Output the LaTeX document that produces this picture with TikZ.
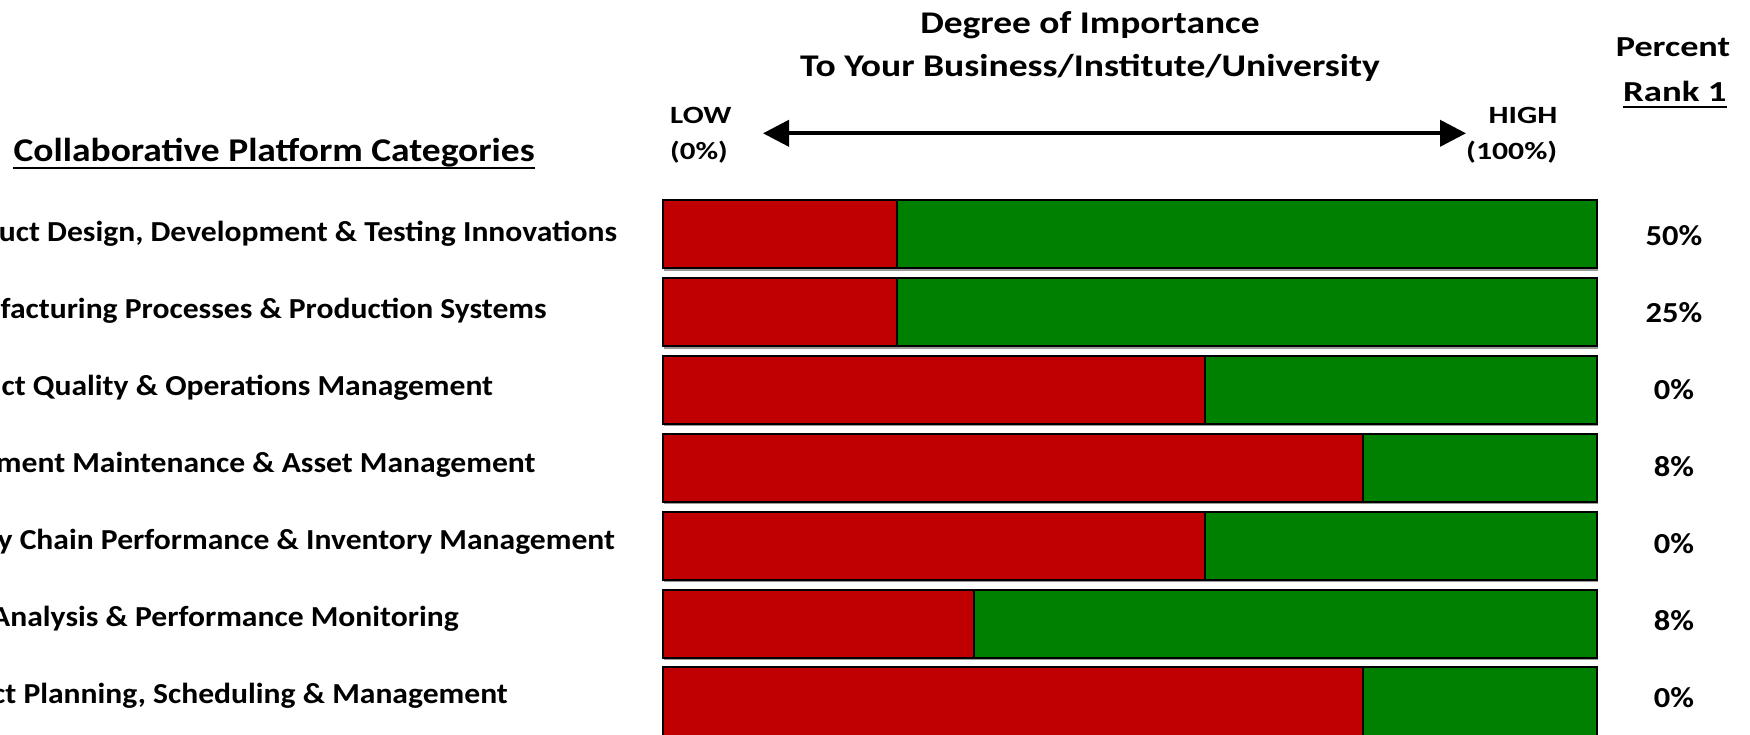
\documentclass[tikz,border=0pt]{standalone}
\usepackage{graphicx}
\usepackage{fontspec}
\setmainfont{Carlito}
\usetikzlibrary{arrows.meta}
\definecolor{barred}{RGB}{192,0,0}
\definecolor{bargreen}{RGB}{0,128,0}
\newcommand{\hs}[2]{\scalebox{#1}[1]{#2}}
\begin{document}
\begin{tikzpicture}[x=1pt,y=-1pt,
  rowlbl/.style={font=\fontsize{29}{35}\selectfont\bfseries, inner sep=0pt, anchor=base east},
  pctlbl/.style={font=\fontsize{29}{35}\selectfont\bfseries, inner sep=0pt, anchor=base},
  title/.style={font=\fontsize{31.6}{38}\selectfont\bfseries, inner sep=0pt, anchor=base},
  scalelbl/.style={font=\fontsize{24.8}{30}\selectfont\bfseries, inner sep=0pt},
  barline/.style={draw=black, line width=2pt},
  shadowline/.style={draw=black!40, line width=1.5pt}
]
\useasboundingbox (0,0) rectangle (1750,735);
\clip (0,0) rectangle (1750,735);

% headings
\node[title] (t1) at (1090,34) {\hs{1.185}{Degree of Importance}};
\node[title] (t2) at (1090,76.7) {\hs{1.19}{To Your Business/Institute/University}};
\node[font=\fontsize{33.2}{40}\selectfont\bfseries, inner sep=0pt, anchor=base west] (cat) at (13.4,161.7) {\hs{1.13}{Collaborative Platform Categories}};
\draw[line width=2.2pt] (cat.base west) ++(0,6.6) coordinate (catul1) -- (catul1 -| cat.base east);
\node[pctlbl] (pc1) at (1673,56.7) {\hs{1.25}{Percent}};
\node[pctlbl] (pc2) at (1674.8,101.7) {\hs{1.27}{Rank 1}};
\draw[line width=2pt] (pc2.base west) ++(0,5.6) coordinate (pcul1) -- (pcul1 -| pc2.base east);

% scale
\node[scalelbl, anchor=base west] (low) at (670,124) {\hs{1.25}{LOW}};
\node[scalelbl, anchor=base west] (lowp) at (670,160) {\hs{1.25}{(0\%)}};
\node[scalelbl, anchor=base east] (high) at (1557.5,124) {\hs{1.28}{HIGH}};
\node[scalelbl, anchor=base east] (highp) at (1557.5,160) {\hs{1.28}{(100\%)}};
\coordinate (arrL) at (763,133.3);
\coordinate (arrR) at (1466,133.3);
\draw[line width=4pt, {Triangle[length=26pt,width=26pt]}-{Triangle[length=26pt,width=26pt]}] (arrL) -- (arrR);

% bars
\foreach \k/\d/\e/\p/\t in {
  0/896.7/617.4/50\%/{Product Design, Development \& Testing Innovations},
  1/896.7/546.9/25\%/{Manufacturing Processes \& Production Systems},
  2/1205/493.3/0\%/{Product Quality \& Operations Management},
  3/1363.3/535.7/8\%/{Equipment Maintenance \& Asset Management},
  4/1205/615.2/0\%/{Supply Chain Performance \& Inventory Management},
  5/974.3/458.9/8\%/{Data Analysis \& Performance Monitoring},
  6/1363.3/508/0\%/{Project Planning, Scheduling \& Management}} {
  \pgfmathsetmacro{\top}{200+77.9*\k}
  \pgfmathsetmacro{\bot}{\top+68.3}
  \draw[shadowline] (664,\bot+1.6) -- (1597.5,\bot+1.6);
  \fill[barred] (663.3,\top) rectangle (\d,\bot);
  \fill[bargreen] (\d,\top) rectangle (1596.7,\bot);
  \draw[barline] (663.3,\top) rectangle (1596.7,\bot);
  \draw[barline] (\d,\top) -- (\d,\bot);
  \node[rowlbl] (row\k) at (\e,241.7+76.9*\k) {\hs{1.09}{\t}};
  \node[pctlbl] (pct\k) at (1674,245.8+76.9*\k) {\hs{1.12}{\p}};
}
\end{tikzpicture}
\end{document}
